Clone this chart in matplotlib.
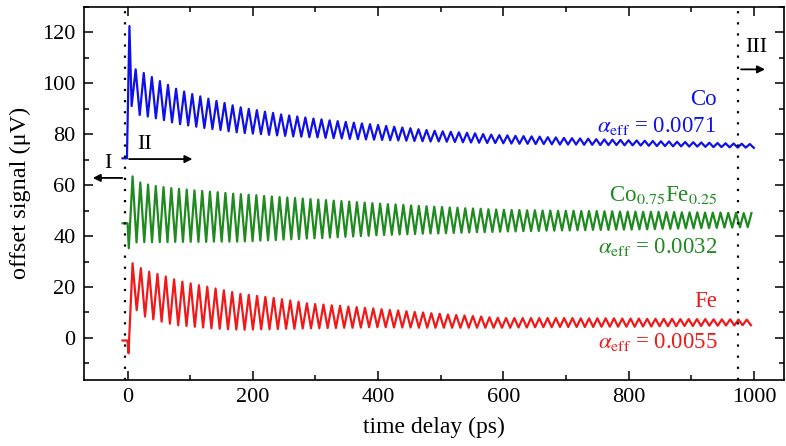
import numpy as np
import matplotlib
matplotlib.use("Agg")
import matplotlib.pyplot as plt
from matplotlib.ticker import MultipleLocator

# ---------------------------
# Data (time in ps, signal in uV)
# ---------------------------

# Co: short flat part before t=0, spike, then alternating troughs/peaks
CO_PRE_T = [-8, -1, 3]
CO_PRE_V = [70.5, 70.5, 122.4]
CO_PERIOD = 12.9
CO_FIRST_TROUGH = 6.5
CO_FIRST_PEAK = 12.95
CO_PEAKS = [
    105.4, 104.0, 102.4, 100.8, 99.3, 97.8, 96.7, 95.7, 94.8, 93.9,
    93.0, 92.2, 91.3, 90.5, 89.9, 89.4, 88.8, 88.3, 87.7, 87.3,
    86.9, 86.5, 86.1, 85.8, 85.4, 85.1, 84.8, 84.5, 84.2, 83.9,
    83.6, 83.2, 82.9, 82.6, 82.3, 81.9, 81.6, 81.3, 81.1, 80.9,
    80.7, 80.5, 80.3, 80.0, 79.8, 79.6, 79.5, 79.3, 79.2, 79.1,
    79.0, 78.8, 78.7, 78.5, 78.4, 78.3, 78.2, 78.0, 77.9, 77.8,
    77.7, 77.6, 77.5, 77.4, 77.3, 77.2, 77.1, 77.0, 76.9, 76.8,
    76.7, 76.6, 76.5, 76.4, 76.3, 76.2, 76.1,
]
CO_TROUGHS = [
    91.0, 87.5, 86.9, 86.2, 85.5, 84.6, 83.9, 83.4, 82.9, 82.4,
    82.0, 81.6, 81.1, 80.7, 80.4, 80.2, 80.0, 79.7, 79.5, 79.3,
    79.1, 79.0, 78.8, 78.7, 78.5, 78.4, 78.3, 78.1, 78.0, 77.9,
    77.8, 77.7, 77.6, 77.5, 77.4, 77.3, 77.2, 77.1, 77.1, 77.0,
    76.9, 76.8, 76.7, 76.6, 76.5, 76.5, 76.4, 76.3, 76.2, 76.2,
    76.1, 76.1, 76.0, 75.9, 75.9, 75.9, 75.8, 75.8, 75.7, 75.7,
    75.7, 75.6, 75.6, 75.5, 75.4, 75.3, 75.3, 75.2, 75.2, 75.1,
    75.1, 75.0, 74.9, 74.9, 74.8, 74.7, 74.7, 74.6,
]

# Co0.75Fe0.25
COFE_PRE_T = [-8, 0]
COFE_PRE_V = [45.0, 45.0]
COFE_PERIOD = 12.35
COFE_FIRST_TROUGH = 2.0
COFE_FIRST_PEAK = 8.0
COFE_PEAKS = [
    63.4, 61.0, 60.2, 59.6, 59.2, 58.8, 58.5, 58.2, 57.9, 57.7,
    57.4, 57.2, 56.9, 56.6, 56.4, 56.2, 56.0, 55.7, 55.5, 55.3,
    55.1, 54.9, 54.7, 54.5, 54.3, 54.1, 53.9, 53.7, 53.5, 53.3,
    53.1, 52.9, 52.7, 52.5, 52.4, 52.2, 52.0, 51.8, 51.7, 51.5,
    51.4, 51.2, 51.1, 50.9, 50.8, 50.7, 50.5, 50.4, 50.3, 50.2,
    50.2, 50.1, 50.1, 50.0, 50.0, 49.9, 49.9, 49.9, 49.8, 49.8,
    49.8, 49.7, 49.7, 49.6, 49.6, 49.6, 49.5, 49.5, 49.5, 49.4,
    49.4, 49.3, 49.3, 49.3, 49.2, 49.2, 49.2, 49.1, 49.1, 49.0,
    49.0,
]
COFE_TROUGHS = [
    35.2, 37.5, 37.6, 37.6, 37.6, 37.6, 37.7, 37.7, 37.7, 37.7,
    37.7, 37.8, 37.8, 37.8, 37.8, 37.9, 38.0, 38.2, 38.3, 38.4,
    38.6, 38.7, 38.8, 39.0, 39.1, 39.2, 39.4, 39.5, 39.7, 39.8,
    40.0, 40.1, 40.3, 40.4, 40.5, 40.6, 40.7, 40.8, 40.9, 41.0,
    41.0, 41.1, 41.2, 41.3, 41.4, 41.5, 41.5, 41.6, 41.7, 41.8,
    41.8, 41.9, 41.9, 42.0, 42.1, 42.1, 42.2, 42.2, 42.3, 42.3,
    42.4, 42.4, 42.4, 42.5, 42.5, 42.5, 42.6, 42.6, 42.7, 42.8,
    42.8, 42.9, 43.0, 43.0, 43.1, 43.1, 43.2, 43.3, 43.3, 43.4,
    43.5,
]

# Fe
FE_PRE_T = [-8, 0, 1.5]
FE_PRE_V = [-1.0, -1.0, -6.0]
FE_PERIOD = 13.25
FE_FIRST_PEAK = 8.0
FE_FIRST_TROUGH = 14.6
FE_PEAKS = [
    29.3, 27.4, 26.0, 25.1, 24.1, 23.0, 22.1, 21.4, 20.7, 20.1,
    19.4, 18.7, 18.0, 17.3, 16.9, 16.5, 16.1, 15.7, 15.2, 14.7,
    14.2, 13.6, 13.3, 13.1, 12.8, 12.6, 12.3, 12.1, 11.8, 11.6,
    11.3, 11.0, 10.8, 10.5, 10.2, 10.0, 9.7, 9.5, 9.2, 9.0,
    8.8, 8.6, 8.4, 8.1, 7.9, 7.8, 7.8, 7.8, 7.8, 7.8,
    7.8, 7.8, 7.8, 7.8, 7.7, 7.7, 7.7, 7.7, 7.7, 7.6,
    7.6, 7.6, 7.5, 7.5, 7.5, 7.5, 7.4, 7.4, 7.4, 7.4,
    7.3, 7.3, 7.3, 7.2, 7.2,
]
FE_TROUGHS = [
    10.9, 8.4, 7.3, 6.4, 5.6, 5.0, 4.7, 4.4, 4.1, 3.8,
    3.6, 3.4, 3.3, 3.2, 3.3, 3.4, 3.4, 3.5, 3.6, 3.6,
    3.7, 3.8, 3.8, 3.9, 3.9, 4.0, 4.0, 4.1, 4.2, 4.2,
    4.2, 4.1, 4.1, 4.1, 4.0, 4.0, 4.0, 4.0, 4.0, 4.0,
    4.0, 4.0, 4.0, 4.0, 4.0, 4.0, 4.1, 4.1, 4.2, 4.2,
    4.2, 4.3, 4.3, 4.3, 4.3, 4.3, 4.4, 4.4, 4.4, 4.4,
    4.4, 4.5, 4.5, 4.6, 4.6, 4.6, 4.7, 4.7, 4.7, 4.8,
    4.8, 4.9, 4.9, 5.0, 5.0,
]

REGION_LINES = [-4, 975]

# ---------------------------
# Helpers
# ---------------------------

def montar_traco(pre_t, pre_v, t_vale, vales, t_pico, picos, periodo):
    """Joins the pre-zero part with the troughs and peaks, sorted by time."""
    tv = t_vale + periodo * np.arange(len(vales))
    tp = t_pico + periodo * np.arange(len(picos))
    t = np.concatenate([pre_t, tv, tp])
    v = np.concatenate([pre_v, vales, picos])
    ordem = np.argsort(t, kind="stable")
    return t[ordem], v[ordem]


plt.rcParams["font.family"] = ["Liberation Serif", "DejaVu Serif"]
plt.rcParams["mathtext.fontset"] = "stix"

fig = plt.figure(figsize=(7.86, 4.46), dpi=100)
ax = fig.add_axes([0.1065, 0.148, 0.891, 0.837])

blue = "#1010e8"
green = "#1f8a1f"
red = "#f01818"

t, v = montar_traco(CO_PRE_T, CO_PRE_V, CO_FIRST_TROUGH, CO_TROUGHS,
                    CO_FIRST_PEAK, CO_PEAKS, CO_PERIOD)
ax.plot(t, v, color=blue, lw=1.6)
t, v = montar_traco(COFE_PRE_T, COFE_PRE_V, COFE_FIRST_TROUGH, COFE_TROUGHS,
                    COFE_FIRST_PEAK, COFE_PEAKS, COFE_PERIOD)
ax.plot(t, v, color=green, lw=1.6)
t, v = montar_traco(FE_PRE_T, FE_PRE_V, FE_FIRST_TROUGH, FE_TROUGHS,
                    FE_FIRST_PEAK, FE_PEAKS, FE_PERIOD)
ax.plot(t, v, color=red, lw=1.6)

# region markers
for xl in REGION_LINES:
    ax.axvline(xl, color="black", lw=1.6, linestyle=(0, (1, 4)))

seta = dict(arrowstyle="-|>", color="black", lw=1.3, mutation_scale=11)
ax.annotate("", xy=(-60, 62.8), xytext=(-4, 62.8), arrowprops=seta)
ax.annotate("", xy=(108, 70.2), xytext=(-2, 70.2), arrowprops=seta)
ax.annotate("", xy=(1022, 105.4), xytext=(975, 105.4), arrowprops=seta)
ax.text(-31, 68.5, "I", fontsize=16, ha="center", va="center")
ax.text(27, 76, "II", fontsize=16, ha="center", va="center")
ax.text(1003, 114, "III", fontsize=16, ha="center", va="center")

# labels of the curves
fs = 16.5
ax.text(940, 93.6, "Co", color=blue, fontsize=fs, ha="right", va="center")
ax.text(940, 83.3, r"$\alpha_{\mathrm{eff}}$ = 0.0071", color=blue,
        fontsize=fs, ha="right", va="center")
ax.text(942, 56.2, r"Co$_{0.75}$Fe$_{0.25}$", color=green, fontsize=fs,
        ha="right", va="center")
ax.text(942, 35.8, r"$\alpha_{\mathrm{eff}}$ = 0.0032", color=green,
        fontsize=fs, ha="right", va="center")
ax.text(942, 14.2, "Fe", color=red, fontsize=fs, ha="right", va="center")
ax.text(942, -1.6, r"$\alpha_{\mathrm{eff}}$ = 0.0055", color=red,
        fontsize=fs, ha="right", va="center")

ax.set_xlim(-70, 1048)
ax.set_ylim(-16.5, 130)
ax.xaxis.set_major_locator(MultipleLocator(200))
ax.xaxis.set_minor_locator(MultipleLocator(100))
ax.yaxis.set_major_locator(MultipleLocator(20))
ax.yaxis.set_minor_locator(MultipleLocator(10))
ax.tick_params(which="both", direction="in", top=True, right=True,
               labelsize=16, width=1.1)
ax.tick_params(which="major", length=6.5, pad=6)
ax.tick_params(which="minor", length=3.5)
for s in ax.spines.values():
    s.set_linewidth(1.2)

ax.set_xlabel("time delay (ps)", fontsize=17, labelpad=7)
ax.set_ylabel("offset signal (\u03bcV)", fontsize=17.5, labelpad=8)

fig.savefig("out.png", dpi=100)
